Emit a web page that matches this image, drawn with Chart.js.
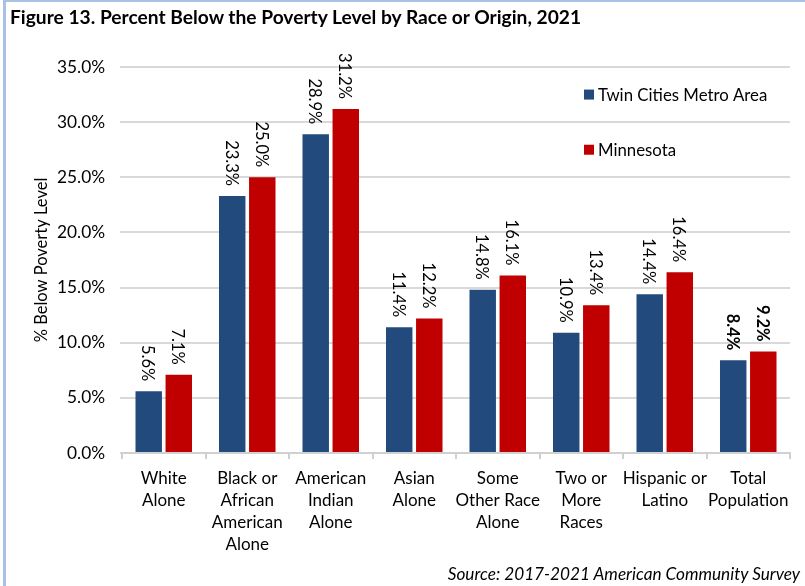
<!DOCTYPE html>
<html>
<head>
<meta charset="utf-8">
<script src="https://cdn.jsdelivr.net/npm/chart.js@4"></script>
<style>
  html, body { margin: 0; padding: 0; background: #fff; }
  #wrap { position: relative; width: 805px; height: 586px; overflow: hidden; }
  #frame { position: absolute; left: 3px; top: 0; width: 900px; height: 700px;
           border-left: 3px solid #a9c2e3; border-top: 2px solid #a9c2e3; box-sizing: border-box; }
  #title { position: absolute; left: 10px; top: 5px; font-family: Lato, sans-serif;
           font-weight: bold; font-size: 19.2px; color: #000; white-space: nowrap; }
  #source { position: absolute; right: 5px; top: 563px; font-family: Lato, sans-serif;
            font-style: italic; font-size: 17.2px; color: #000; white-space: nowrap; }
  canvas { position: absolute; left: 0; top: 0; }
</style>
</head>
<body>
<div id="wrap">
  <div id="frame"></div>
  <canvas id="chart" width="805" height="586"></canvas>
  <div id="title">Figure 13. Percent Below the Poverty Level by Race or Origin, 2021</div>
  <div id="source">Source: 2017-2021 American Community Survey</div>
</div>
<script>
// Categories (multi-line labels) and poverty rates, in percent
const categories = [
  ['White', 'Alone'],
  ['Black or', 'African', 'American', 'Alone'],
  ['American', 'Indian', 'Alone'],
  ['Asian', 'Alone'],
  ['Some', 'Other Race', 'Alone'],
  ['Two or', 'More', 'Races'],
  ['Hispanic or', 'Latino'],
  ['Total', 'Population']
];
const twinCities = [5.6, 23.3, 28.9, 11.4, 14.8, 10.9, 14.4, 8.4];
const minnesota  = [7.1, 25.0, 31.2, 12.2, 16.1, 13.4, 16.4, 9.2];
const seriesNames = ['Twin Cities Metro Area', 'Minnesota'];
const yTicks = [0, 5, 10, 15, 20, 25, 30, 35];

const BLUE = '#234A7C';
const RED = '#C00000';
const FONT = 'Lato, sans-serif';

// Rotated value labels above each bar; the last category is bold
const valueLabels = {
  id: 'valueLabels',
  afterDatasetsDraw(chart) {
    const ctx = chart.ctx;
    chart.data.datasets.forEach((ds, di) => {
      const meta = chart.getDatasetMeta(di);
      meta.data.forEach((bar, i) => {
        const bold = i === ds.data.length - 1;
        ctx.save();
        ctx.translate(bar.x, bar.y - 10);
        ctx.rotate(Math.PI / 2);
        ctx.font = (bold ? 'bold ' : '') + '16.5px ' + FONT;
        ctx.fillStyle = '#000';
        ctx.textAlign = 'right';
        ctx.textBaseline = 'middle';
        ctx.fillText(ds.data[i].toFixed(1) + '%', 0, 1);
        ctx.restore();
      });
    });
  }
};

// Legend drawn inside the plot area on the right
const insideLegend = {
  id: 'insideLegend',
  afterDraw(chart) {
    const ctx = chart.ctx;
    const area = chart.chartArea;
    const yScale = chart.scales.y;
    ctx.save();
    ctx.font = '16.8px ' + FONT;
    ctx.textBaseline = 'middle';
    ctx.textAlign = 'left';
    chart.data.datasets.forEach((ds, di) => {
      const y = yScale.getPixelForValue(32.5 - di * 5);
      const x = area.right - 206;
      ctx.fillStyle = ds.backgroundColor;
      ctx.fillRect(x, y - 5, 10, 10);
      ctx.fillStyle = '#000';
      ctx.fillText(ds.label, x + 14, y + 1);
    });
    ctx.restore();
  }
};

new Chart(document.getElementById('chart'), {
  type: 'bar',
  data: {
    labels: categories,
    datasets: [
      { label: seriesNames[0], data: twinCities, backgroundColor: BLUE },
      { label: seriesNames[1], data: minnesota, backgroundColor: RED }
    ]
  },
  options: {
    responsive: false,
    animation: false,
    events: [],
    layout: { padding: { left: 28, right: 15, top: 67, bottom: 0 } },
    datasets: { bar: { categoryPercentage: 0.72, barPercentage: 0.88 } },
    plugins: { legend: { display: false }, tooltip: { enabled: false } },
    scales: {
      x: {
        offset: true,
        grid: { offset: true, drawOnChartArea: false, drawTicks: true, tickLength: 6,
                color: '#d0d0d0', lineWidth: 2 },
        border: { display: true, color: '#d0d0d0', width: 2 },
        ticks: { color: '#000', font: { family: FONT, size: 17, lineHeight: 1.3 },
                 padding: 8, maxRotation: 0, autoSkip: false },
        afterFit(scale) { scale.height = 586 - 453; }
      },
      y: {
        min: 0, max: 35,
        afterBuildTicks(scale) { scale.ticks = yTicks.map(v => ({ value: v })); },
        grid: { color: '#d9d9d9', lineWidth: 2, drawTicks: true, tickLength: 2 },
        border: { display: false },
        ticks: { color: '#000', font: { family: FONT, size: 17.3 }, padding: 15,
                 callback: v => v.toFixed(1) + '%' },
        title: { display: true, text: '% Below Poverty Level', color: '#000',
                 font: { family: FONT, size: 16.5 }, padding: { top: 4, bottom: 4 } },
        afterFit(scale) { scale.width = 122 - 28; }
      }
    }
  },
  plugins: [valueLabels, insideLegend]
});
</script>
</body>
</html>
